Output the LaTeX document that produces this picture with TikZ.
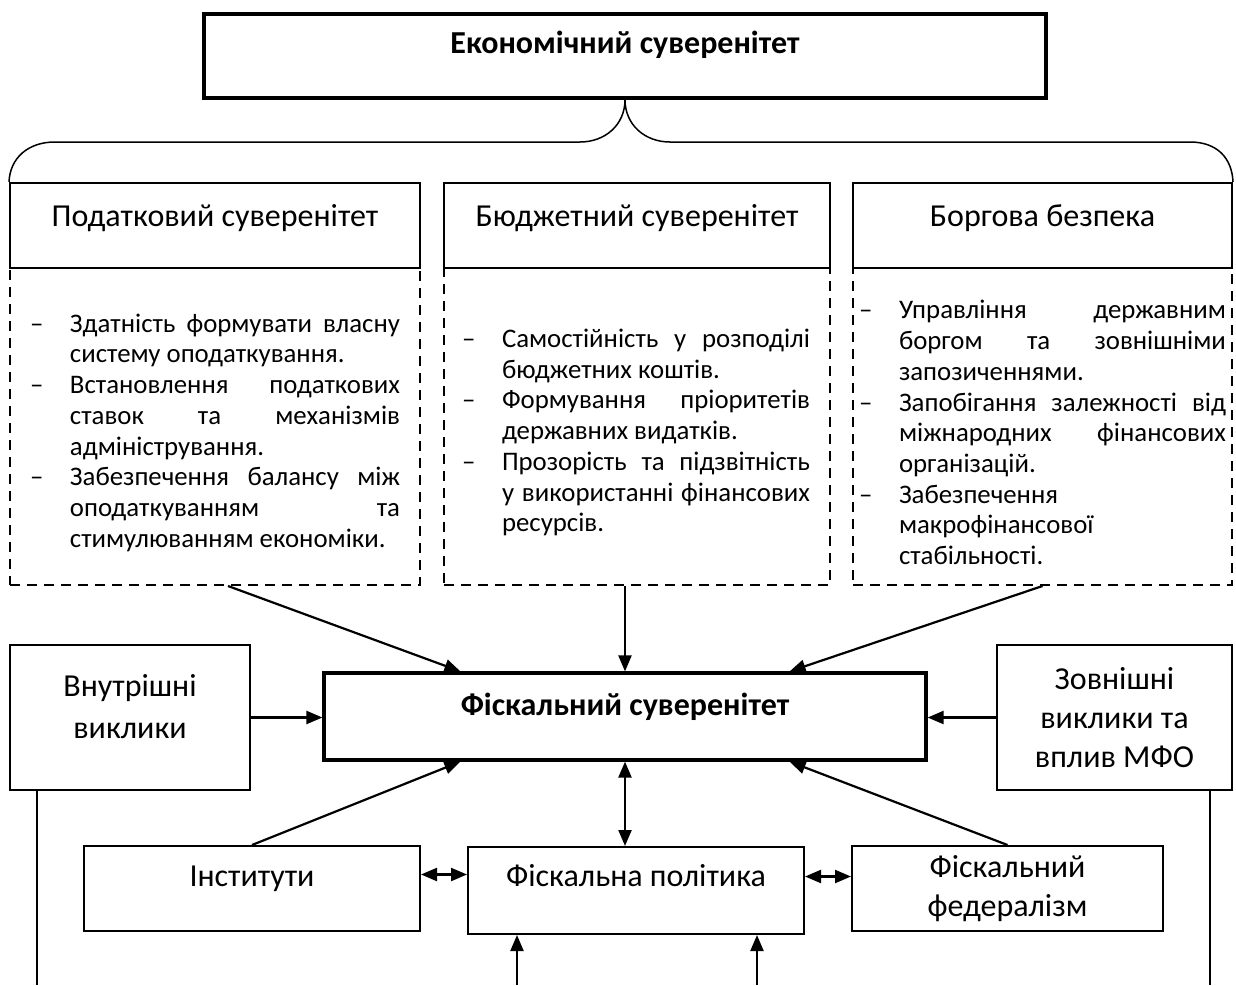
\documentclass[tikz,border=0pt]{standalone}
\usepackage{fontspec}
\setmainfont{Carlito}
\usepackage{enumitem}
\usetikzlibrary{arrows.meta, positioning}
\newcommand{\headfont}{\fontsize{16}{19.5}\selectfont}
\newcommand{\notefont}{\fontsize{13.4}{15.35}\selectfont\hyphenpenalty=10000\exhyphenpenalty=10000}
\newlist{notelist}{itemize}{1}
\setlist[notelist]{label=\textendash, labelwidth=10pt, labelsep=10pt, align=left, nosep}

\begin{document}
\begin{tikzpicture}[x=0.5pt, y=-0.5pt,
    box/.style={draw, line width=1pt, font=\headfont, align=center, inner sep=0pt},
    mainbox/.style={box, line width=1.6pt, font=\headfont\bfseries},
    lift/.style={text height=12pt, text depth=#1},
    notebox/.style={draw, dash pattern=on 5pt off 3.5pt, line width=1pt, font=\notefont, align=justify, inner ysep=0pt},
    link/.style={-{Triangle[length=8pt, width=6.5pt]}, line width=1.1pt},
    twoway/.style={{Triangle[length=8pt, width=6.5pt]}-{Triangle[length=8pt, width=6.5pt]}, line width=1.1pt},
    brace/.style={line width=0.75pt},
]
  \useasboundingbox (0,0) rectangle (1236,985);

  % top level
  \node[mainbox, minimum width=421pt, minimum height=42pt, lift=14pt] (econ) at (625,56) {Економічний суверенітет};

  % dashed notes under the three headers
  \node[notebox, text width=185pt, inner xsep=10pt, minimum height=158.5pt] (taxnote) at (215,426.5) {%
    \begin{notelist}[leftmargin=20pt]
      \item Здатність формувати власну\linebreak систему оподаткування.
      \item Встановлення податкових\linebreak ставок та механізмів\linebreak адміністрування.
      \item Забезпечення балансу між\linebreak оподаткуванням та\linebreak стимулюванням економіки.
    \end{notelist}};
  \node[notebox, text width=173pt, inner xsep=10pt, minimum height=158.5pt] (budgetnote) at (637,426.5) {%
    \begin{notelist}[leftmargin=19pt]
      \item Самостійність у розподілі\linebreak бюджетних коштів.
      \item Формування пріоритетів\linebreak державних видатків.
      \item Прозорість та підзвітність\linebreak у використанні фінансових\linebreak ресурсів.
    \end{notelist}};
  \node[notebox, text width=183.5pt, inner xsep=3pt, minimum height=158.5pt] (debtnote) at (1042.5,426.5) {%
    \begin{notelist}[leftmargin=20pt]
      \item Управління державним\linebreak боргом та зовнішніми\linebreak запозиченнями.
      \item Запобігання залежності від\linebreak міжнародних фінансових\linebreak організацій.
      \item Забезпечення\newline макрофінансової\newline стабільності.
    \end{notelist}};

  % headers
  \node[box, minimum width=205pt, minimum height=42.5pt, lift=11.5pt] (tax) at (215,225.5) {Податковий суверенітет};
  \node[box, minimum width=193pt, minimum height=42.5pt, lift=11.5pt] (budget) at (637,225.5) {Бюджетний суверенітет};
  \node[box, minimum width=189.5pt, minimum height=42.5pt, lift=11.5pt] (debt) at (1042.5,225.5) {Боргова безпека};

  % brace
  \draw[brace] (tax.north west) .. controls (10,158) and (28,142) .. (55,142) -- (580,142)
    .. controls (605,142) and (625,125) .. (econ.south)
    .. controls (625,125) and (645,142) .. (670,142) -- (1190,142)
    .. controls (1217,142) and (1232,158) .. (debt.north east);

  % lower block
  \node[mainbox, minimum width=301pt, minimum height=43.5pt, lift=13.5pt] (fiscal) at (625,716.5) {Фіскальний суверенітет};
  \node[box, minimum width=120pt, minimum height=72.5pt] (inner) at (130,717.5) {Внутрішні\\[1.5pt]виклики\\[-8pt]\mbox{}};
  \node[box, minimum width=117.5pt, minimum height=72.5pt] (outer) at (1114.5,717.5) {Зовнішні\\виклики та\\вплив МФО};
  \node[box, minimum width=168pt, minimum height=42.5pt, lift=14.5pt] (inst) at (252,888.5) {Інститути};
  \node[box, minimum width=168pt, minimum height=43.5pt, lift=16.5pt] (policy) at (636,890.5) {Фіскальна політика};
  \node[box, minimum width=155.5pt, minimum height=42.5pt] (fed) at (1007.5,888.5) {Фіскальний\\федералізм};

  \coordinate (innerfoot) at (37,985);
  \coordinate (outerfoot) at (1210,985);
  \coordinate (policyinl) at (517,985);
  \coordinate (policyinr) at (757,985);

  % connectors
  \draw[link] ([xshift=6.5pt]taxnote.south) -- ([xshift=69pt]fiscal.north west);
  \draw[link] (fiscal.north |- budgetnote.south) -- (fiscal.north);
  \draw[link] (debtnote.south) -- ([xshift=-69pt]fiscal.north east);
  \draw[link] (inner.east) -- (inner.east -| fiscal.west);
  \draw[link] (outer.west) -- (outer.west -| fiscal.east);
  \draw[link] (inst.north) -- ([xshift=69pt]fiscal.south west);
  \draw[link] (fed.north) -- ([xshift=-69pt]fiscal.south east);
  \draw[twoway] (fiscal.south) -- (fiscal.south |- policy.north);
  \draw[twoway] ([yshift=7pt]inst.east) -- ([yshift=7pt]inst.east -| policy.west);
  \draw[twoway] ([yshift=7pt]policy.east) -- ([yshift=7pt]policy.east -| fed.west);
  \draw[link] (policyinl) -- (policyinl |- policy.south);
  \draw[link] (policyinr) -- (policyinr |- policy.south);
  \draw[line width=0.7pt] (inner.south -| innerfoot) -- (innerfoot);
  \draw[line width=0.7pt] (outer.south -| outerfoot) -- (outerfoot);
\end{tikzpicture}
\end{document}
